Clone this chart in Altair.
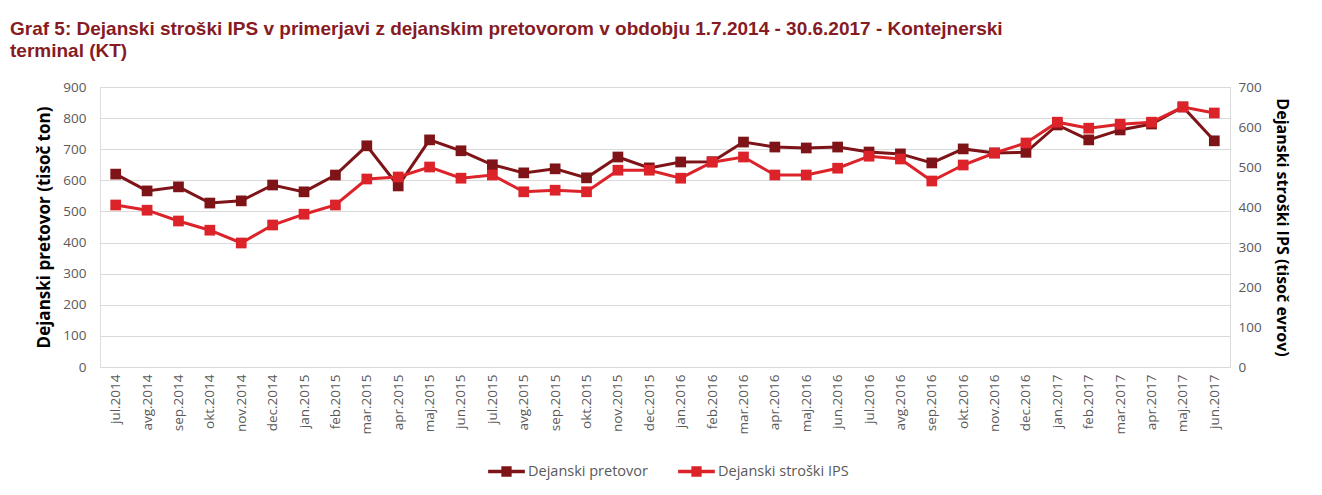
import altair as alt
import pandas as pd

months = ["jul.2014", "avg.2014", "sep.2014", "okt.2014", "nov.2014", "dec.2014",
          "jan.2015", "feb.2015", "mar.2015", "apr.2015", "maj.2015", "jun.2015",
          "jul.2015", "avg.2015", "sep.2015", "okt.2015", "nov.2015", "dec.2015",
          "jan.2016", "feb.2016", "mar.2016", "apr.2016", "maj.2016", "jun.2016",
          "jul.2016", "avg.2016", "sep.2016", "okt.2016", "nov.2016", "dec.2016",
          "jan.2017", "feb.2017", "mar.2017", "apr.2017", "maj.2017", "jun.2017"]

pretovor = [620, 566, 579, 527, 534, 585, 563, 617, 711, 582, 730, 695,
            650, 624, 637, 608, 675, 640, 659, 660, 723, 707, 704, 707,
            691, 685, 656, 701, 688, 690, 778, 730, 762, 781, 836, 727]

stroski = [405, 392, 365, 342, 310, 355, 382, 405, 470, 475, 500, 472,
           480, 438, 442, 438, 492, 492, 472, 512, 525, 480, 480, 497,
           527, 520, 465, 505, 535, 560, 612, 597, 607, 612, 650, 635]

series_names = ["Dejanski pretovor", "Dejanski stroški IPS"]
series_colors = ["#7E1417", "#DC232A"]

df_a = pd.DataFrame({"mesec": months, "vrednost": pretovor, "serija": series_names[0]})
df_b = pd.DataFrame({"mesec": months, "vrednost": stroski, "serija": series_names[1]})

FONT = "Open Sans"
LABEL_COLOR = "#595959"

x_enc = alt.X("mesec:N", sort=months, title=None,
              scale=alt.Scale(type="point", padding=0.5),
              axis=alt.Axis(labelAngle=-90, labelFontSize=13.5, labelColor=LABEL_COLOR,
                            labelFont=FONT, ticks=False, domain=True, domainColor="#D9D9D9",
                            domainWidth=1, labelPadding=7, grid=False))

color_scale = alt.Scale(domain=series_names, range=series_colors)

legend = alt.Legend(orient="none", direction="horizontal", legendX=388, legendY=366,
                    title=None, labelFont=FONT, labelFontSize=14.5, labelColor=LABEL_COLOR,
                    symbolType="M-1,-0.09L1,-0.09L1,0.09L-1,0.09Z M-0.28,-0.28L0.28,-0.28L0.28,0.28L-0.28,0.28Z",
                    symbolSize=1350, symbolStrokeWidth=0, columnPadding=30, labelOffset=3)

pt = alt.OverlayMarkDef(filled=True, shape="square", size=115, opacity=1)

left = alt.Chart(df_a).mark_line(strokeWidth=3, point=pt).encode(
    x=x_enc,
    y=alt.Y("vrednost:Q", title="Dejanski pretovor (tisoč ton)",
            scale=alt.Scale(domain=[0, 900], nice=False),
            axis=alt.Axis(orient="left", values=list(range(0, 901, 100)), grid=True,
                          gridColor="#D9D9D9", ticks=False, domain=False,
                          labelFontSize=13.5, labelColor=LABEL_COLOR, labelFont=FONT,
                          labelPadding=14, titleFont=FONT, titleFontSize=17,
                          titleFontWeight="bold", titleColor="#000000", titlePadding=9)),
    color=alt.Color("serija:N", scale=color_scale, legend=legend),
)

right = alt.Chart(df_b).mark_line(strokeWidth=3, point=pt).encode(
    x=x_enc,
    y=alt.Y("vrednost:Q", title="Dejanski stroški IPS (tisoč evrov)",
            scale=alt.Scale(domain=[0, 700], nice=False),
            axis=alt.Axis(orient="right", values=list(range(0, 701, 100)), grid=False,
                          ticks=False, domain=False,
                          labelFontSize=13.5, labelColor=LABEL_COLOR, labelFont=FONT,
                          labelPadding=8, titleFont=FONT, titleFontSize=16,
                          titleFontWeight="bold", titleColor="#000000", titlePadding=12)),
    color=alt.Color("serija:N", scale=color_scale, legend=legend),
)

chart = alt.layer(left, right).resolve_scale(y="independent", color="shared").properties(
    width=1130, height=280,
    title=alt.TitleParams(
        ["Graf 5: Dejanski stroški IPS v primerjavi z dejanskim pretovorom v obdobju 1.7.2014 - 30.6.2017 - Kontejnerski",
         "terminal (KT)"],
        anchor="start", frame="group", dx=-90, font="Liberation Sans", fontSize=19,
        fontWeight="bold", color="#861B24", lineHeight=22, offset=19),
    autosize=alt.AutoSizeParams(type="none"),
    padding={"left": 92, "top": 79, "right": 84, "bottom": 128},
).configure_view(stroke=None).configure(background="white")

chart.save("out.html", embed_options={"renderer": "svg", "actions": False})
